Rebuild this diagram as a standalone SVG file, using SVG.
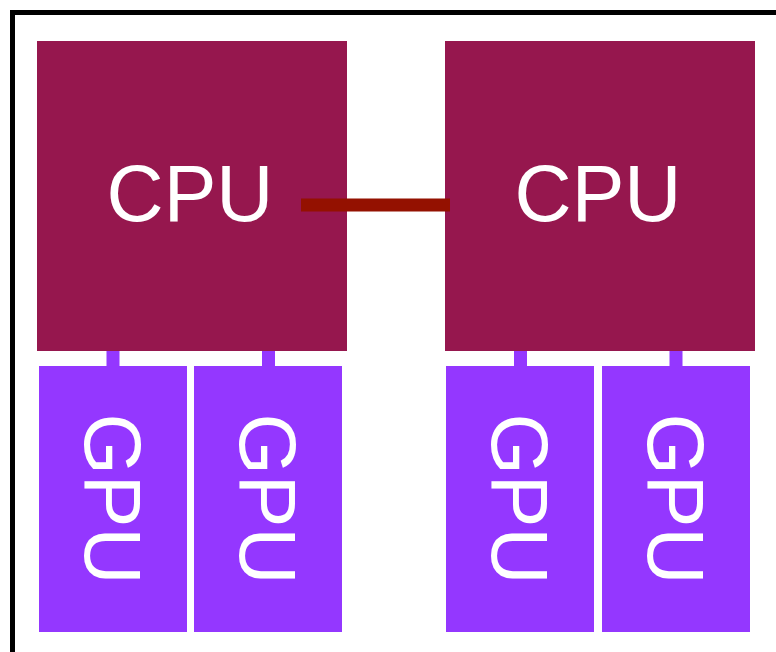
<svg xmlns="http://www.w3.org/2000/svg" width="776" height="652" viewBox="0 0 776 652">
<style>
.cpu{fill:#96174E}
.gpu{fill:#9437FF}
.stub{fill:#9437FF}
.lbl{fill:#ffffff;font-family:"Liberation Sans",Arial,sans-serif;font-size:79px;text-anchor:middle}
</style>
<rect x="12.5" y="12.5" width="820" height="700" fill="#ffffff" stroke="#000000" stroke-width="5"/>
<g id="cpu1"><rect class="cpu" x="37" y="41" width="310" height="310"/><text class="lbl" x="190" y="221">CPU</text></g>
<g id="cpu2"><rect class="cpu" x="445" y="41" width="310" height="310"/><text class="lbl" x="598" y="221">CPU</text></g>
<g id="connectors">
<line x1="301" y1="205" x2="450" y2="205" stroke="#941100" stroke-width="13"/>
<rect class="stub" x="106.5" y="351" width="13" height="15"/>
<rect class="stub" x="262" y="351" width="13" height="15"/>
<rect class="stub" x="514" y="351" width="13" height="15"/>
<rect class="stub" x="669.5" y="351" width="13" height="15"/>
</g>
<g id="gpu1"><rect class="gpu" x="39" y="366" width="148" height="266"/><text class="lbl" transform="translate(113.5,499) rotate(90)" x="0" y="28.5">GPU</text></g>
<g id="gpu2"><rect class="gpu" x="194" y="366" width="148" height="266"/><text class="lbl" transform="translate(268.5,499) rotate(90)" x="0" y="28.5">GPU</text></g>
<g id="gpu3"><rect class="gpu" x="446" y="366" width="148" height="266"/><text class="lbl" transform="translate(520.5,499) rotate(90)" x="0" y="28.5">GPU</text></g>
<g id="gpu4"><rect class="gpu" x="602" y="366" width="148" height="266"/><text class="lbl" transform="translate(676,499) rotate(90)" x="0" y="28.5">GPU</text></g>
</svg>
